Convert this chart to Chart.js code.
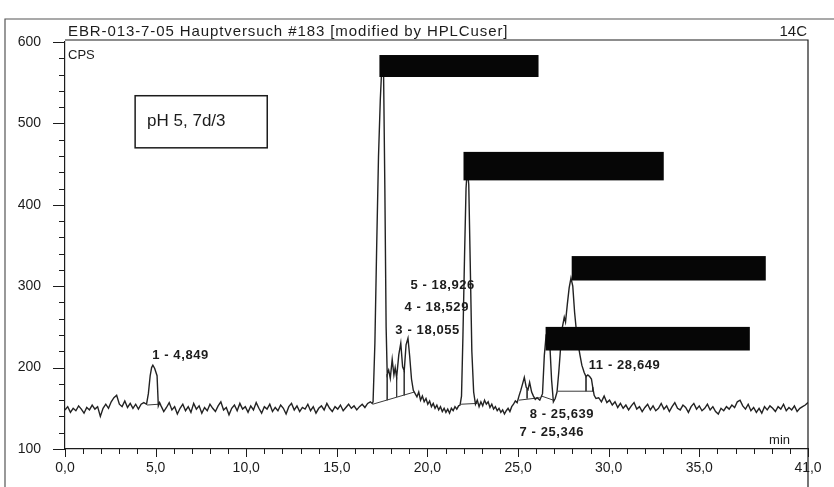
<!DOCTYPE html>
<html>
<head>
<meta charset="utf-8">
<script src="https://cdn.jsdelivr.net/npm/chart.js@4.4.0/dist/chart.umd.min.js"></script>
<style>
html,body{margin:0;padding:0;background:#fff;}
canvas{display:block;}
</style>
</head>
<body>
<canvas id="chromChart" width="834" height="487"></canvas>
<script>
// Radio-HPLC trace, 14C detector, counts per second vs retention time (min)

const rt = [
0,0.15,0.3,0.45,0.6,0.75,0.9,1.05,1.2,1.35,1.5,1.65,1.8,1.95,2.1,2.25,2.4,2.55,2.7,2.85,3.0,3.15,3.3,3.45,3.6,3.75,3.9,4.05,4.2,4.35,4.5,
4.6,4.7,4.78,4.849,4.95,5.08,5.15,5.22,
5.3,5.45,5.6,5.75,5.9,6.05,6.2,6.35,6.5,6.65,6.8,6.95,7.1,7.25,7.4,7.55,7.7,7.85,8.0,8.15,8.3,8.45,8.6,8.75,8.9,9.05,9.2,9.35,9.5,9.65,9.8,9.95,
10.1,10.25,10.4,10.55,10.7,10.85,11.0,11.15,11.3,11.45,11.6,11.75,11.9,12.05,12.2,12.35,12.5,12.65,12.8,12.95,13.1,13.25,13.4,13.55,13.7,13.85,
14.0,14.15,14.3,14.45,14.6,14.75,14.9,15.05,15.2,15.35,15.5,15.65,15.8,15.95,16.1,16.25,16.4,16.55,16.7,16.85,
16.95,17.0,17.1,17.2,17.3,17.4,17.5,17.58,17.65,17.72,17.78,17.86,17.95,18.055,18.15,18.22,18.3,18.42,18.529,18.63,18.72,18.82,18.926,19.02,19.12,19.22,19.32,
19.42,19.52,19.62,19.72,19.82,19.92,20.02,20.12,20.22,20.32,20.42,20.52,20.62,20.72,20.82,20.92,21.02,21.12,21.22,21.32,21.42,21.52,21.62,21.72,21.8,
21.88,21.96,22.05,22.13,22.2,22.28,22.36,22.45,22.55,22.65,22.75,
22.85,22.95,23.05,23.15,23.25,23.35,23.45,23.55,23.65,23.75,23.85,23.95,24.05,24.15,24.25,24.35,24.45,24.55,24.65,24.75,24.85,24.95,
25.05,25.15,25.25,25.346,25.45,25.55,25.639,25.75,25.85,25.95,26.05,26.2,26.35,26.45,26.55,26.65,26.75,26.85,26.95,27.05,
27.15,27.25,27.35,27.45,27.55,27.62,27.72,27.82,27.92,28.02,28.12,28.22,28.32,28.42,28.52,28.649,28.75,28.85,28.95,29.05,29.12,29.2,29.3,
29.45,29.6,29.75,29.9,30.05,30.2,30.35,30.5,30.65,30.8,30.95,31.1,31.25,31.4,31.55,31.7,31.85,32.0,32.15,32.3,32.45,32.6,32.75,32.9,33.05,33.2,33.35,33.5,33.65,33.8,33.95,
34.1,34.25,34.4,34.55,34.7,34.85,35.0,35.15,35.3,35.45,35.6,35.75,35.9,36.05,36.2,36.35,36.5,36.65,36.8,36.95,37.1,37.25,37.4,37.55,37.7,37.85,
38.0,38.15,38.3,38.45,38.6,38.75,38.9,39.05,39.2,39.35,39.5,39.65,39.8,39.95,40.1,40.25,40.4,40.55,40.7,40.85,41.0
];

const cps = [
148,152,145,150,147,153,149,144,151,148,154,149,152,140,150,155,150,158,163,166,155,152,159,151,156,150,155,149,155,157,155,
168,190,200,203,199,190,153,157,
153,146,151,157,148,152,143,150,155,147,152,145,156,149,153,144,151,147,155,150,146,153,158,148,151,142,150,154,147,156,
149,152,145,153,148,157,150,144,152,149,155,146,151,147,154,150,143,152,156,148,153,146,151,149,155,147,152,144,150,153,
148,156,150,146,152,149,154,147,151,155,150,153,148,152,155,151,156,158,
156,158,230,350,460,530,578,560,420,250,192,197,187,210,191,200,188,216,230,201,196,228,236,214,186,172,168,
164,170,160,165,158,162,155,159,152,156,150,154,148,152,146,150,145,149,144,150,147,152,149,153,154,
165,240,340,420,445,425,330,220,170,155,160,
152,158,153,160,155,158,151,155,149,152,147,150,145,148,143,147,150,146,152,155,159,157,
165,172,180,188,176,173,182,170,165,161,163,160,168,215,240,245,230,185,158,162,
170,195,225,250,262,256,278,298,310,300,268,245,228,215,203,194,189,191,189,186,176,166,162,
163,158,165,157,160,154,158,151,156,150,154,148,153,157,149,152,146,151,155,148,153,147,150,156,149,153,146,152,157,150,148,
154,151,145,152,156,149,153,147,150,155,148,152,146,143,150,147,152,149,154,151,158,160,153,149,155,147,
151,145,150,144,152,148,153,150,146,152,149,155,147,151,148,153,146,150,152,154,157
];

// integration baselines and drop lines (null breaks the path)
const baseT = [4.53,5.17,5.17, 16.98,19.28,19.28, 17.78,17.78,17.78, 18.3,18.3,18.3, 18.72,18.72,18.72,
  21.85,22.75,22.75, 25.05,26.2,26.2, 25.5,25.5,25.5, 26.3,26.95,26.95, 27.2,29.15,29.15, 28.75,28.75,28.75, 29.12,29.12];
const baseV = [154,155,null, 155,170,null, 192,160,null, 188,164,null, 196,166,null,
  155,156,null, 160,163,null, 174,162,null, 165,160,null, 171,171,null, 189,171,null, 176,171];

const xLabelled = [0, 5, 10, 15, 20, 25, 30, 35, 41];

const peakLabels = ['1 - 4,849','3 - 18,055','4 - 18,529','5 - 18,926','7 - 25,346','8 - 25,639','11 - 28,649'];
const labelAt = [[4.81,215],[18.23,246],[18.73,274],[19.06,301],[25.08,120],[25.64,143],[28.9,203]];

// blacked-out name fields: [t0, t1, cpsLow, cpsHigh]
const redactions = [[17.35,26.13,557,584],[21.99,33.04,430,465],[27.96,38.67,307,337],[26.52,37.79,221,250]];

const ink = '#1c1c1c';
const face = '"Liberation Sans", Arial, sans-serif';

const decorations = {
  id: 'decorations',
  afterDatasetsDraw(chart) {
    const {ctx, chartArea: a, scales: {x, y}} = chart;
    ctx.save();
    ctx.strokeStyle = ink;
    ctx.lineWidth = 1;
    x.ticks.forEach(t => {
      const px = Math.round(x.getPixelForValue(t.value)) + 0.5;
      const len = xLabelled.includes(t.value) ? 8 : 5;
      ctx.beginPath(); ctx.moveTo(px, a.bottom); ctx.lineTo(px, a.bottom + len); ctx.stroke();
    });
    y.ticks.forEach(t => {
      const py = Math.round(y.getPixelForValue(t.value)) + 0.5;
      const len = t.value % 100 === 0 ? 12 : 6;
      ctx.beginPath(); ctx.moveTo(a.left - len, py); ctx.lineTo(a.left, py); ctx.stroke();
    });

    ctx.fillStyle = '#060606';
    redactions.forEach(([t0, t1, v0, v1]) => {
      const x0 = x.getPixelForValue(t0), x1 = x.getPixelForValue(t1);
      const y0 = y.getPixelForValue(v1), y1 = y.getPixelForValue(v0);
      ctx.fillRect(x0, y0, x1 - x0, y1 - y0);
    });

    ctx.fillStyle = ink;
    ctx.textAlign = 'left';
    ctx.textBaseline = 'middle';
    ctx.font = 'bold 13px ' + face;
    ctx.letterSpacing = '0.6px';
    peakLabels.forEach((txt, i) => {
      ctx.fillText(txt, x.getPixelForValue(labelAt[i][0]), y.getPixelForValue(labelAt[i][1]));
    });
    ctx.letterSpacing = '0px';

    // sample box
    const bx0 = x.getPixelForValue(3.87), bx1 = x.getPixelForValue(11.16);
    const by0 = y.getPixelForValue(534), by1 = y.getPixelForValue(470);
    ctx.lineWidth = 1.5;
    ctx.strokeRect(bx0, by0, bx1 - bx0, by1 - by0);
    ctx.font = '17px ' + face;
    ctx.fillText('pH 5, 7d/3', x.getPixelForValue(4.53), y.getPixelForValue(502));

    ctx.font = '13px ' + face;
    ctx.fillText('CPS', a.left + 3, a.top + 13);
    ctx.textAlign = 'right';
    ctx.fillText('min', a.right - 18, a.bottom - 9);
    ctx.restore();
  },
  afterDraw(chart) {
    const {ctx, chartArea: a} = chart;
    ctx.save();
    ctx.strokeStyle = ink;
    ctx.lineWidth = 1.2;
    ctx.beginPath();
    ctx.moveTo(a.left, a.top - 2); ctx.lineTo(a.right, a.top - 2);
    ctx.lineTo(a.right, chart.height);
    ctx.stroke();
    ctx.strokeStyle = '#555';
    ctx.beginPath();
    ctx.moveTo(5, chart.height); ctx.lineTo(5, 19); ctx.lineTo(chart.width, 19);
    ctx.stroke();

    ctx.fillStyle = ink;
    ctx.textBaseline = 'alphabetic';
    ctx.font = '15px ' + face;
    ctx.textAlign = 'left';
    ctx.letterSpacing = '0.9px';
    ctx.fillText('EBR-013-7-05 Hauptversuch #183 [modified by HPLCuser]', a.left + 3, a.top - 6, 442);
    ctx.letterSpacing = '0px';
    ctx.textAlign = 'right';
    ctx.fillText('14C', a.right - 1, a.top - 6);
    ctx.restore();
  }
};

new Chart(
document.getElementById('chromChart'),
{
type: 'line',
data: {
datasets: [
{
data: rt.map((t, i) => ({x: t, y: cps[i]})),
borderColor: '#222',
borderWidth: 1.4,
pointRadius: 0,
tension: 0
},
{
data: baseT.map((t, i) => ({x: t, y: baseV[i]})),
borderColor: '#3a3a3a',
borderWidth: 1,
pointRadius: 0,
spanGaps: false,
tension: 0
}
]
},
options: {
responsive: false,
animation: false,
devicePixelRatio: 1,
layout: {padding: {left: 8, right: 26, top: 42, bottom: 0}},
plugins: {legend: {display: false}, tooltip: {enabled: false}},
scales: {
x: {
type: 'linear',
min: 0,
max: 41,
afterFit: s => { s.height = 38; },
grid: {drawOnChartArea: false, drawTicks: false},
border: {display: true, color: ink, width: 1.2},
ticks: {
stepSize: 1,
autoSkip: false,
maxRotation: 0,
padding: 11,
color: ink,
font: {family: face, size: 14},
callback: v => xLabelled.includes(v) ? v.toFixed(1).replace('.', ',') : ''
}
},
y: {
min: 100,
max: 600,
afterFit: s => { s.width = 57; },
grid: {drawOnChartArea: false, drawTicks: false},
border: {display: true, color: ink, width: 1.2},
ticks: {
stepSize: 20,
autoSkip: false,
padding: 24,
color: ink,
font: {family: face, size: 14},
callback: v => v % 100 === 0 ? String(v) : ''
}
}
}
},
plugins: [decorations]
}
);
</script>
</body>
</html>
